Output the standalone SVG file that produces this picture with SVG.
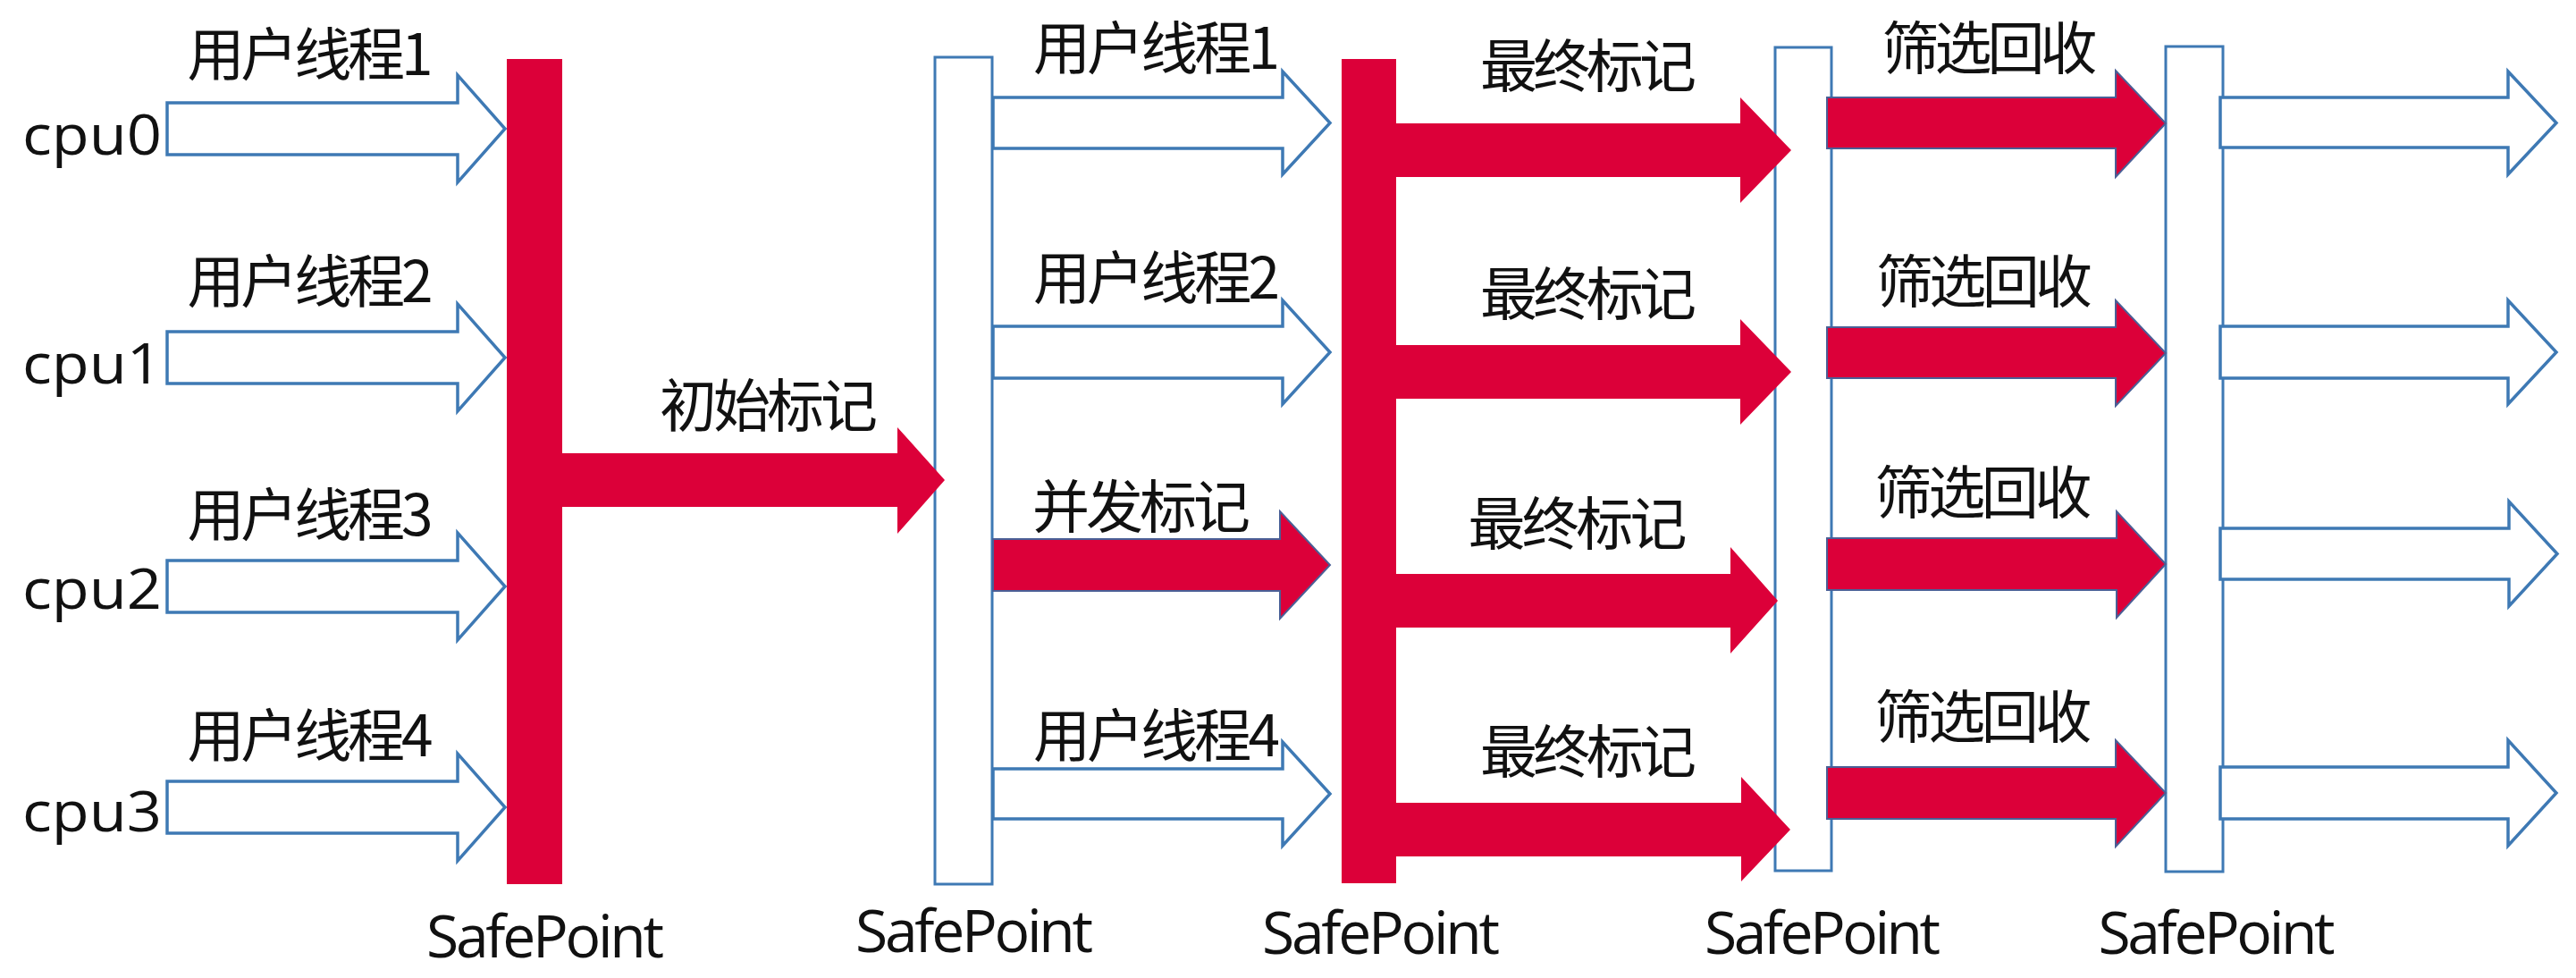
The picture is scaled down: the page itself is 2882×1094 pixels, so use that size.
<svg xmlns="http://www.w3.org/2000/svg" width="2882" height="1094" viewBox="0 0 2882 1094">
<style>
.bg{fill:#ffffff}
.bar{fill:#DC0039}
.sp{fill:#ffffff;stroke:#3E79B4;stroke-width:3}
.ba{fill:#ffffff;stroke:#3E79B4;stroke-width:3.5;stroke-linejoin:miter}
.ra{fill:#DC0039}
.rb{fill:#DC0039;stroke:#4A5F96;stroke-width:2}
.cjk{font-family:"Noto Sans CJK SC","Noto Sans",sans-serif;font-size:64px;fill:#111111;text-anchor:middle}
.lat{font-family:"Open Sans","Noto Sans","Liberation Sans",sans-serif;fill:#111111;text-anchor:middle}
.cpu{font-size:63px}
.spt{font-size:66px}
</style>
<rect class="bg" x="0" y="0" width="2882" height="1094"/>
<g id="cpu-labels">
<text class="lat cpu" x="103" y="173" textLength="156" lengthAdjust="spacingAndGlyphs">cpu0</text>
<text class="lat cpu" x="103" y="429" textLength="156" lengthAdjust="spacingAndGlyphs">cpu1</text>
<text class="lat cpu" x="103" y="681" textLength="156" lengthAdjust="spacingAndGlyphs">cpu2</text>
<text class="lat cpu" x="103" y="930" textLength="156" lengthAdjust="spacingAndGlyphs">cpu3</text>
</g>
<g id="safepoint1">
<rect class="bar" x="567" y="66" width="62" height="923"/>
<text class="lat spt" x="610" y="1071" textLength="266">SafePoint</text>
</g>
<g id="safepoint2">
<rect class="sp" x="1046" y="64" width="64" height="925"/>
<text class="lat spt" x="1090" y="1065" textLength="266">SafePoint</text>
</g>
<g id="safepoint3">
<rect class="bar" x="1501" y="66" width="61" height="922"/>
<text class="lat spt" x="1545" y="1067" textLength="266">SafePoint</text>
</g>
<g id="safepoint4">
<rect class="sp" x="1986" y="53" width="63" height="921"/>
<text class="lat spt" x="2039" y="1067" textLength="264">SafePoint</text>
</g>
<g id="safepoint5">
<rect class="sp" x="2423" y="52" width="64" height="923"/>
<text class="lat spt" x="2480" y="1067" textLength="265">SafePoint</text>
</g>
<g id="connectors">
<path class="ba" d="M187,115 L512,115 L512,84 L565,144 L512,204 L512,173 L187,173 Z"/>
<path class="ba" d="M187,371 L512,371 L512,340 L565,400 L512,460 L512,429 L187,429 Z"/>
<path class="ba" d="M187,627 L512,627 L512,596 L565,656 L512,716 L512,685 L187,685 Z"/>
<path class="ba" d="M187,874 L512,874 L512,843 L565,903 L512,963 L512,932 L187,932 Z"/>
<path class="ra" d="M620,507 L1004,507 L1004,478 L1057,537 L1004,597 L1004,567 L620,567 Z"/>
<path class="ba" d="M1111,109 L1435,109 L1435,80 L1488,137.5 L1435,195 L1435,166 L1111,166 Z"/>
<path class="ba" d="M1111,365 L1435,365 L1435,336 L1488,394 L1435,452 L1435,423 L1111,423 Z"/>
<path class="rb" d="M1111,603 L1432,603 L1432,572 L1488,632 L1432,692 L1432,661 L1111,661 Z"/>
<path class="ba" d="M1111,860 L1435,860 L1435,830 L1488,888 L1435,946 L1435,916 L1111,916 Z"/>
<path class="ra" d="M1555,138 L1947,138 L1947,109 L2004,168 L1947,227 L1947,198 L1555,198 Z"/>
<path class="ra" d="M1555,386 L1947,386 L1947,357 L2004,416 L1947,475 L1947,446 L1555,446 Z"/>
<path class="ra" d="M1555,642 L1936,642 L1936,612 L1989,672 L1936,731 L1936,702 L1555,702 Z"/>
<path class="ra" d="M1555,898 L1948,898 L1948,869 L2003,928 L1948,986 L1948,958 L1555,958 Z"/>
<path class="rb" d="M2044,109 L2367,109 L2367,79 L2423,138 L2367,198 L2367,166 L2044,166 Z"/>
<path class="rb" d="M2044,366 L2367,366 L2367,336 L2423,395 L2367,454 L2367,423 L2044,423 Z"/>
<path class="rb" d="M2044,602 L2368,602 L2368,572 L2423,631 L2368,691 L2368,660 L2044,660 Z"/>
<path class="rb" d="M2044,858 L2367,858 L2367,828 L2423,887 L2367,947 L2367,916 L2044,916 Z"/>
<path class="ba" d="M2484,109 L2806,109 L2806,80 L2860,137.5 L2806,195 L2806,165 L2484,165 Z"/>
<path class="ba" d="M2484,365 L2806,365 L2806,336 L2860,394 L2806,452 L2806,423 L2484,423 Z"/>
<path class="ba" d="M2484,591 L2807,591 L2807,561 L2861,619.5 L2807,678 L2807,648 L2484,648 Z"/>
<path class="ba" d="M2484,858 L2806,858 L2806,828 L2860,887 L2806,946 L2806,916 L2484,916 Z"/>
</g>
<g id="labels">
<text class="cjk" x="347" y="84" textLength="275">用户线程1</text>
<text class="cjk" x="347" y="338" textLength="275">用户线程2</text>
<text class="cjk" x="347" y="599" textLength="275">用户线程3</text>
<text class="cjk" x="347" y="846" textLength="275">用户线程4</text>
<text class="cjk" x="860" y="477" textLength="244">初始标记</text>
<text class="cjk" x="1294" y="77" textLength="276">用户线程1</text>
<text class="cjk" x="1294" y="334" textLength="276">用户线程2</text>
<text class="cjk" x="1277" y="590" textLength="244">并发标记</text>
<text class="cjk" x="1294" y="846" textLength="276">用户线程4</text>
<text class="cjk" x="1777" y="97" textLength="242">最终标记</text>
<text class="cjk" x="1777" y="352" textLength="242">最终标记</text>
<text class="cjk" x="1765" y="609" textLength="245">最终标记</text>
<text class="cjk" x="1777" y="864" textLength="242">最终标记</text>
<text class="cjk" x="2226" y="77" textLength="241">筛选回收</text>
<text class="cjk" x="2220" y="338" textLength="242">筛选回收</text>
<text class="cjk" x="2219" y="574" textLength="243">筛选回收</text>
<text class="cjk" x="2219" y="825" textLength="243">筛选回收</text>
</g>
</svg>
